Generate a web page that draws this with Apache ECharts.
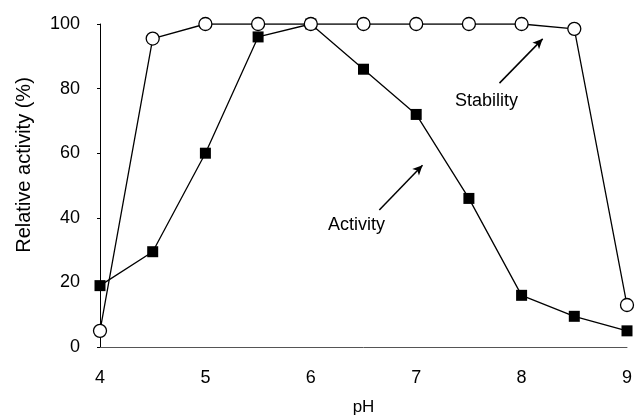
<!DOCTYPE html>
<html><head><meta charset="utf-8">
<script src="https://cdn.jsdelivr.net/npm/echarts@6/dist/echarts.min.js"></script>
<style>html,body{margin:0;padding:0;background:#fff}#c{width:635px;height:416px}</style>
</head><body><div id="c"></div>
<script>
const phValues = [4, 4.5, 5, 5.5, 6, 6.5, 7, 7.5, 8, 8.5, 9];
const stability = [5, 95.5, 100, 100, 100, 100, 100, 100, 100, 98.5, 13];
const activity = [19, 29.5, 60, 96, 100, 86, 72, 46, 16, 9.5, 5];
const xTicks = [4, 5, 6, 7, 8, 9];
const yTicks = [0, 20, 40, 60, 80, 100];
const stabilityArrow = [[7.79, 81.7], [8.2, 95.4]];
const activityArrow = [[6.65, 42.4], [7.06, 56.3]];

const font = 'Liberation Sans, Arial, sans-serif';
const chart = echarts.init(document.getElementById('c'), null, {renderer: 'canvas'});
function arrowLine(pts) {
  return {
    silent: true, symbol: ['none', 'arrow'], symbolSize: [7, 10],
    lineStyle: {color: '#000', width: 1.5, type: 'solid'},
    label: {show: false},
    data: [[{coord: pts[0]}, {coord: pts[1]}]]
  };
}
chart.setOption({
  animation: false,
  grid: {left: 100, right: 8, top: 24, bottom: 69, containLabel: false, outerBoundsMode: 'none'},
  xAxis: {
    type: 'value', min: 4, max: 9, interval: 1,
    name: 'pH', nameLocation: 'middle', nameGap: 52,
    nameTextStyle: {fontFamily: font, fontSize: 17, color: '#000'},
    axisLine: {lineStyle: {color: '#555', width: 1}},
    axisTick: {show: false},
    axisLabel: {fontFamily: font, fontSize: 18, color: '#000', margin: 22,
      formatter: v => xTicks.includes(v) ? String(v) : ''},
    splitLine: {show: false}
  },
  yAxis: {
    type: 'value', min: 0, max: 100, interval: 20,
    axisLine: {show: true, lineStyle: {color: '#000', width: 1}},
    axisTick: {show: true, length: 3, lineStyle: {color: '#000'}},
    axisLabel: {fontFamily: font, fontSize: 18, color: '#000', margin: 20,
      formatter: v => yTicks.includes(v) ? String(v) : ''},
    splitLine: {show: false}
  },
  graphic: [
    {type: 'text', x: 24, y: 165, rotation: Math.PI / 2,
      style: {text: 'Relative activity (%)', font: '20px ' + font, fill: '#000', align: 'center', verticalAlign: 'middle'}},
    {type: 'text', x: 455, y: 101,
      style: {text: 'Stability', font: '18px ' + font, fill: '#000', align: 'left', verticalAlign: 'middle'}},
    {type: 'text', x: 328, y: 225,
      style: {text: 'Activity', font: '18px ' + font, fill: '#000', align: 'left', verticalAlign: 'middle'}}
  ],
  series: [
    {
      name: 'Activity', type: 'line',
      data: phValues.map((x, i) => [x, activity[i]]),
      symbol: 'rect', symbolSize: 11,
      itemStyle: {color: '#000', borderColor: '#000', borderWidth: 0},
      lineStyle: {color: '#000', width: 1.3},
      z: 3,
      markLine: arrowLine(activityArrow)
    },
    {
      name: 'Stability', type: 'line',
      data: phValues.map((x, i) => [x, stability[i]]),
      symbol: 'circle', symbolSize: 13,
      itemStyle: {color: '#fff', borderColor: '#000', borderWidth: 1.3},
      lineStyle: {color: '#000', width: 1.3},
      z: 4,
      markLine: arrowLine(stabilityArrow)
    }
  ]
});
</script></body></html>
